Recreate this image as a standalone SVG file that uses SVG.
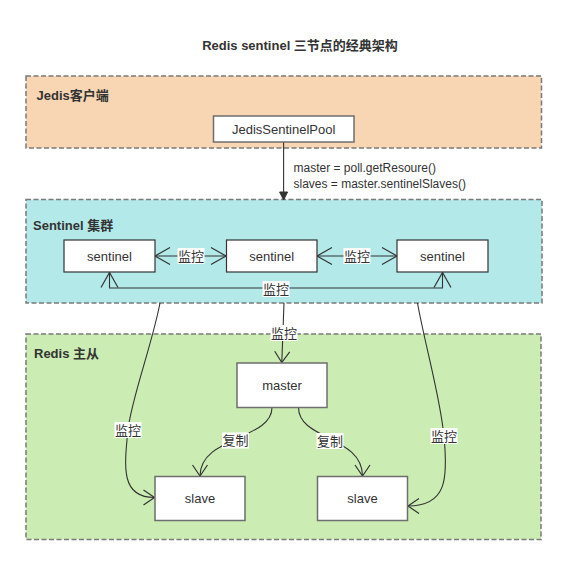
<svg xmlns="http://www.w3.org/2000/svg" width="568" height="565" viewBox="0 0 568 565">
<style>
text{font-family:"Liberation Sans",Arial,"Noto Sans CJK SC",sans-serif;fill:#333}
.title{font-size:13px;font-weight:bold;text-anchor:middle}
.sec{font-size:13px;font-weight:bold}
.nt{font-size:13px;text-anchor:middle}
.lt{font-size:13px;text-anchor:middle}
.ct{font-size:12px}
.cont{stroke:#7a7a7a;stroke-width:1.5;stroke-dasharray:5 2.5}
.node{fill:#fff;stroke:#6e6e6e;stroke-width:1.5}
.snode{fill:#fff;stroke:#333;stroke-width:1.2}
.edge{fill:none;stroke:#333;stroke-width:1.1}
.lbg{fill:#fff}
</style>
<defs>
<marker id="openBig" markerUnits="userSpaceOnUse" orient="auto-start-reverse" markerWidth="24" markerHeight="24" viewBox="-18 -12 24 24" refX="0" refY="0" overflow="visible"><path d="M-15,-8.5 L0,0 L-15,8.5" fill="none" stroke="#333" stroke-width="1.2"/></marker>
<marker id="openSm" markerUnits="userSpaceOnUse" orient="auto" markerWidth="20" markerHeight="20" viewBox="-14 -10 20 20" refX="0" refY="0" overflow="visible"><path d="M-11,-7.5 L0,0 L-11,7.5" fill="none" stroke="#333" stroke-width="1.2"/></marker>
<marker id="block" markerUnits="userSpaceOnUse" orient="auto" markerWidth="12" markerHeight="12" viewBox="-10 -6 12 12" refX="0" refY="0" overflow="visible"><path d="M-8,-4 L0,0 L-8,4 Z" fill="#333" stroke="#333" stroke-width="1"/></marker>
</defs>
<rect x="0" y="0" width="568" height="565" fill="#fff"/>
<text class="title" x="300" y="50">Redis sentinel 三节点的经典架构</text>

<g id="jedis-client">
<rect class="cont" x="26" y="76" width="515.5" height="72" fill="#f8d5b3"/>
<text class="sec" x="36.5" y="99.5">Jedis客户端</text>
</g>
<g id="sentinel-cluster">
<rect class="cont" x="26" y="199.5" width="516" height="103.5" fill="#b3e9e9"/>
<text class="sec" x="33" y="229.5">Sentinel 集群</text>
</g>
<g id="redis-master-slave">
<rect class="cont" x="26" y="334" width="515" height="205.5" fill="#cbecb3"/>
<text class="sec" x="34" y="357.5">Redis 主从</text>
</g>

<g id="connectors">
<path class="edge" d="M283.6,142 L283.6,200" marker-end="url(#block)"/>
<text class="ct" x="293.5" y="172">master = poll.getResoure()</text>
<text class="ct" x="293.5" y="187.5">slaves = master.sentinelSlaves()</text>

<path class="edge" d="M155,256 L226,256" marker-start="url(#openBig)" marker-end="url(#openBig)"/>
<rect class="lbg" x="177.5" y="248" width="27" height="16"/>
<text class="lt" x="191" y="260.5">监控</text>

<path class="edge" d="M317,256 L397,256" marker-start="url(#openBig)" marker-end="url(#openBig)"/>
<rect class="lbg" x="343.5" y="248" width="27" height="16"/>
<text class="lt" x="357" y="260.5">监控</text>

<path class="edge" d="M109.5,272.5 L109.5,288 L442.5,288 L442.5,272.5" marker-start="url(#openBig)" marker-end="url(#openBig)"/>
<rect class="lbg" x="262.5" y="281" width="27" height="16"/>
<text class="lt" x="276" y="293.5">监控</text>

<path class="edge" d="M284,303 L281.8,362.5" marker-end="url(#openSm)"/>
<rect class="lbg" x="270.5" y="325" width="27" height="16"/>
<text class="lt" x="284" y="337.5">监控</text>

<path class="edge" d="M160,303 C152,345 131,400 128,430 C124,468 121,497.5 154.5,497.5" marker-end="url(#openSm)"/>
<rect class="lbg" x="114.5" y="422" width="27" height="16"/>
<text class="lt" x="128" y="434.5">监控</text>

<path class="edge" d="M417.5,303 C425,345 441,400 444,437 C448,478 447,506 408,506" marker-end="url(#openSm)"/>
<rect class="lbg" x="430.5" y="428" width="27" height="16"/>
<text class="lt" x="444" y="440.5">监控</text>

<path class="edge" d="M272,407.5 C272,440 200,436 200,476" marker-end="url(#openSm)"/>
<rect class="lbg" x="222" y="432.5" width="27" height="16"/>
<text class="lt" x="235.5" y="445">复制</text>

<path class="edge" d="M298.5,407.5 C298.5,440 362.5,436 362.5,476" marker-end="url(#openSm)"/>
<rect class="lbg" x="316.5" y="433" width="27" height="16"/>
<text class="lt" x="330" y="445.5">复制</text>
</g>

<g id="jedis-sentinel-pool">
<rect class="node" x="213.5" y="116" width="140.5" height="26"/>
<text class="nt" x="283.7" y="133.5">JedisSentinelPool</text>
</g>
<g id="sentinel-1">
<rect class="snode" x="64" y="240" width="91" height="32"/>
<text class="nt" x="109.5" y="260.5">sentinel</text>
</g>
<g id="sentinel-2">
<rect class="snode" x="226.5" y="240" width="90.5" height="32"/>
<text class="nt" x="271.7" y="260.5">sentinel</text>
</g>
<g id="sentinel-3">
<rect class="snode" x="397" y="240" width="91" height="32"/>
<text class="nt" x="442.5" y="260.5">sentinel</text>
</g>
<g id="master">
<rect class="node" x="237" y="363" width="90" height="44.5"/>
<text class="nt" x="282" y="389.5">master</text>
</g>
<g id="slave-1">
<rect class="node" x="155" y="476.5" width="90" height="44"/>
<text class="nt" x="200" y="503">slave</text>
</g>
<g id="slave-2">
<rect class="node" x="317.5" y="476.5" width="90" height="44"/>
<text class="nt" x="362.5" y="503">slave</text>
</g>
</svg>
